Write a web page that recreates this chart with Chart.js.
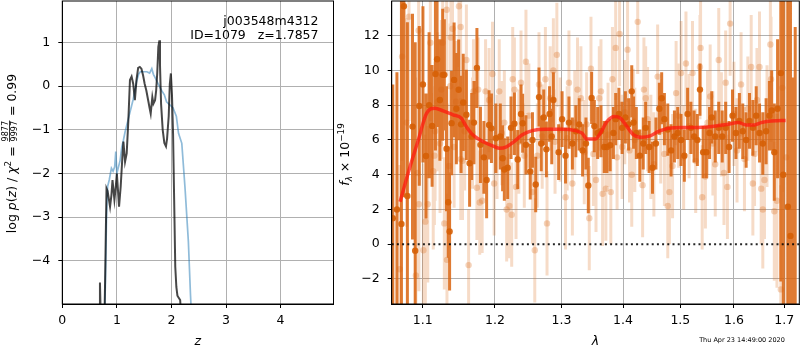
<!DOCTYPE html>
<html>
<head>
<meta charset="utf-8">
<script src="https://cdn.jsdelivr.net/npm/chart.js"></script>
<style>
  html, body { margin: 0; padding: 0; background: #fff; }
  #wrap { position: relative; width: 800px; height: 350px; }
  #wrap canvas { position: absolute; left: 0; top: 0; }
</style>
</head>
<body>
<div id="wrap">
  <canvas id="pzChart" width="800" height="350"></canvas>
  <canvas id="specChart" width="800" height="350"></canvas>
</div>
<script>
// ---- left panel: log p(z) ----
const zTicks = [0, 1, 2, 3, 4];
const pzTicks = [-4, -3, -2, -1, 0, 1];
const zRange = [0, 4.97];
const pzRange = [-4.99, 1.95];

// dark curve (full p(z))
const pzZ = [0.60, 0.685, 0.69, 0.71, 0.77, 0.79, 0.81, 0.83, 0.875, 0.90, 0.92, 0.955, 0.98, 1.00, 1.04, 1.07,
  1.10, 1.12, 1.15, 1.18, 1.21, 1.24, 1.27, 1.30, 1.33, 1.36, 1.39, 1.42, 1.45, 1.48, 1.51, 1.54, 1.57,
  1.60, 1.62, 1.65, 1.67, 1.70, 1.72, 1.74, 1.76, 1.78, 1.79, 1.81, 1.84, 1.87, 1.90, 1.92, 1.95, 1.97,
  1.99, 2.01, 2.03, 2.05, 2.07, 2.09, 2.11, 2.13, 2.16, 2.18, 2.22];
const pzLog = [-7, -5.2, -4.5, -5.6, -5.6, -4.0, -2.34, -2.4, -2.76, -2.5, -2.15, -2.6, -2.3, -2.0, -2.76, -2.3,
  -1.65, -1.27, -1.73, -1.54, -0.8, 0.14, 0.22, 0.05, -0.32, 0.15, 0.42, 0.44, 0.4, 0.25, 0.05, -0.1, -0.3,
  -0.5, -0.63, -0.25, -0.4, -0.32, -0.1, 0.3, 0.9, 1.05, 0.5, -0.4, -1.0, -1.3, -1.38, -1.2, -0.69, 0.05,
  0.29, -0.2, -1.1, -2.6, -4.13, -4.6, -4.8, -4.84, -4.9, -5.3, -7];

// light blue curve
const blueZ = [0.76, 0.79, 0.81, 0.83, 0.86, 0.90, 0.93, 0.96, 0.98, 1.00, 1.03, 1.06, 1.09, 1.12, 1.15, 1.18,
  1.21, 1.24, 1.27, 1.30, 1.33, 1.36, 1.40, 1.43, 1.47, 1.51, 1.55, 1.60, 1.64, 1.67, 1.72, 1.77, 1.82,
  1.87, 1.91, 1.96, 2.03, 2.09, 2.13, 2.19, 2.25, 2.31, 2.35, 2.38];
const blueLog = [-6, -4.5, -3.0, -2.3, -2.15, -1.88, -1.95, -1.85, -1.5, -2.0, -1.85, -1.7, -1.4, -1.24, -1.05, -0.9,
  -0.75, -0.6, -0.45, -0.3, -0.1, 0.1, 0.28, 0.33, 0.33, 0.33, 0.33, 0.3, 0.4, 0.27, 0.15, 0.02, -0.1,
  -0.2, -0.36, -0.42, -0.5, -0.69, -1.08, -1.31, -2.35, -3.55, -4.8, -5.6];

const objName = 'j003548m4312';
const objInfo = 'ID=1079   z=1.7857';

// ---- right panel: spectrum ----
const lamTicks = [1.1, 1.2, 1.3, 1.4, 1.5, 1.6, 1.7];
const fluxTicks = [-2, 0, 2, 4, 6, 8, 10, 12];
const lamRange = [1.0597, 1.731];
const fluxRange = [-3.44, 14.0];

const darkLam = [1.0611, 1.0664, 1.0722, 1.0754, 1.0799, 1.0866, 1.0901, 1.0955, 1.1003, 1.1044, 1.1085, 1.1125,
  1.1170, 1.1192, 1.1230, 1.1268, 1.1290, 1.1320, 1.1344, 1.1362, 1.1389, 1.1424, 1.1455, 1.1487, 1.1520,
  1.1550, 1.1594, 1.1639, 1.1668, 1.1700, 1.1742, 1.1792, 1.1841, 1.1880, 1.1915, 1.1949, 1.2013, 1.2077,
  1.2111, 1.2136, 1.2185, 1.2234, 1.2284, 1.2333, 1.2382, 1.2407, 1.2456, 1.2520, 1.2554, 1.2603, 1.2653,
  1.2687, 1.2726, 1.2766, 1.2815, 1.2849, 1.2874, 1.2956, 1.3010, 1.3064, 1.3118, 1.3172, 1.3227, 1.3281,
  1.3335, 1.3389, 1.3427, 1.3481, 1.3525, 1.3579, 1.3633, 1.3687, 1.3731, 1.3785, 1.3839, 1.3877, 1.3931,
  1.3985, 1.4040, 1.4094, 1.4148, 1.4179, 1.4226, 1.4286, 1.4345, 1.4387, 1.4447, 1.4506, 1.4566, 1.4626,
  1.4667, 1.4715, 1.4775, 1.4834, 1.4894, 1.4953, 1.5013, 1.5073, 1.5132, 1.5192, 1.5251, 1.5311, 1.5359,
  1.5418, 1.5478, 1.5537, 1.5578, 1.5644, 1.5710, 1.5776, 1.5842, 1.5907, 1.5973, 1.6039, 1.6105, 1.6171,
  1.6237, 1.6303, 1.6369, 1.6435, 1.6501, 1.6566, 1.6632, 1.6698, 1.6744, 1.6797, 1.6863, 1.6929, 1.6980,
  1.7074, 1.7127, 1.7185, 1.7225];
const darkFlux = [1.5, 2.0, 1.17, 13.7, 2.78, 6.77, -0.37, 7.96, 9.2, 5.08, 8.0, 6.81,
  9.8, 10.65, 8.3, 9.75, 9.75, 5.5, 2.42, 0.73, 6.97, 9.46, 7.8, 8.89, 6.9,
  8.16, 7.45, 4.66, 6.2, 7.0, 10.14, 5.72, 5.0, 3.7, 6.87, 6.67, 6.1, 6.2,
  4.95, 4.3, 4.4, 6.7, 6.94, 4.88, 7.5, 6.96, 5.72, 4.18, 6.0, 3.44, 8.47,
  5.8, 7.3, 5.46, 7.5, 6.2, 8.3, 5.3, 7.2, 5.1, 7.0, 5.8, 6.5, 6.9,
  5.4, 5.8, 3.38, 8.42, 6.8, 6.4, 6.5, 5.6, 5.6, 5.7, 6.4, 7.2, 7.5,
  6.7, 7.3, 6.9, 8.8, 7.0, 6.4, 5.1, 5.8, 6.7, 5.6, 4.4, 5.8, 7.8,
  8.4, 7.2, 6.6, 5.4, 6.2, 6.4, 6.0, 5.1, 7.5, 6.7, 6.2, 6.0, 8.9,
  5.3, 5.3, 6.4, 7.3, 6.2, 6.7, 6.2, 6.7, 5.6, 7.4, 6.4, 7.1, 6.5,
  6.0, 7.1, 6.7, 7.4, 6.4, 5.8, 6.5, 7.4, 7.7, 5.3, 7.8, 9.85, 4.0,
  2.16, 0.48, -6.0, -5.0];
const darkErr = [7.7, 7.9, 16, 11, 10, 6.5, 12, 4.6, 4.5, 3.6, 4.2, 3.5,
  4.4, 3.9, 3.5, 3.8, 3.2, 3.6, 3.2, 3.4, 3.0, 3.3, 3.2, 2.9, 2.8,
  2.8, 2.6, 2.5, 2.5, 2.4, 2.3, 2.2, 2.1, 2.2, 2.0, 2.0, 2.0, 1.9,
  1.9, 1.8, 1.8, 1.8, 1.8, 1.7, 1.7, 1.7, 1.7, 1.6, 1.6, 1.6, 1.7,
  1.6, 1.6, 1.6, 1.6, 1.6, 1.6, 1.6, 1.6, 1.6, 1.5, 1.5, 1.5, 1.5,
  1.5, 1.5, 1.6, 1.5, 1.5, 1.5, 1.5, 1.5, 1.5, 1.5, 1.5, 1.5, 1.5,
  1.5, 1.5, 1.5, 1.5, 1.5, 1.5, 1.5, 1.5, 1.5, 1.5, 1.5, 1.5, 1.5,
  1.5, 1.5, 1.5, 1.5, 1.5, 1.5, 1.5, 1.5, 1.5, 1.5, 1.5, 1.5, 1.5,
  1.5, 1.5, 1.5, 1.5, 1.5, 1.5, 1.5, 1.5, 1.5, 1.5, 1.5, 1.6, 1.6,
  1.6, 1.6, 1.6, 1.7, 1.7, 1.8, 1.9, 2.0, 2.3, 2.8, 4.0, 12, 14,
  14, 15, 15.6, 17.5];

const lightLam = [1.0700, 1.0730, 1.0790, 1.0820, 1.0910, 1.0930, 1.0946, 1.0950, 1.1009, 1.1035, 1.1067, 1.1102,
  1.1140, 1.1156, 1.1165, 1.1200, 1.1232, 1.1250, 1.1268, 1.1290, 1.1322, 1.1326, 1.1357, 1.1370, 1.1380,
  1.1402, 1.1424, 1.1450, 1.1491, 1.1514, 1.1516, 1.1540, 1.1570, 1.1594, 1.1625, 1.1680, 1.1693, 1.1742,
  1.1760, 1.1782, 1.1816, 1.1865, 1.1915, 1.1964, 1.1988, 1.2030, 1.2062, 1.2100, 1.2136, 1.2170, 1.2210,
  1.2244, 1.2259, 1.2284, 1.2308, 1.2350, 1.2382, 1.2431, 1.2456, 1.2500, 1.2554, 1.2589, 1.2628, 1.2653,
  1.2702, 1.2751, 1.2776, 1.2825, 1.2874, 1.2900, 1.2928, 1.2980, 1.3064, 1.3090, 1.3118, 1.3172, 1.3210,
  1.3254, 1.3308, 1.3362, 1.3400, 1.3443, 1.3470, 1.3510, 1.3552, 1.3606, 1.3633, 1.3660, 1.3714, 1.3750,
  1.3796, 1.3823, 1.3877, 1.3900, 1.3942, 1.3985, 1.4030, 1.4077, 1.4110, 1.4148, 1.4175, 1.4200, 1.4250,
  1.4334, 1.4357, 1.4387, 1.4420, 1.4477, 1.4530, 1.4596, 1.4650, 1.4715, 1.4775, 1.4804, 1.4860, 1.4924,
  1.4970, 1.5013, 1.5060, 1.5102, 1.5160, 1.5222, 1.5280, 1.5359, 1.5370, 1.5400, 1.5460, 1.5500, 1.5549,
  1.5600, 1.5644, 1.5710, 1.5760, 1.5809, 1.5842, 1.5875, 1.5927, 1.6000, 1.6060, 1.6138, 1.6204, 1.6270,
  1.6336, 1.6369, 1.6402, 1.6450, 1.6500, 1.6534, 1.6566, 1.6599, 1.6650, 1.6718, 1.6731, 1.6797, 1.6850,
  1.6929, 1.6960, 1.7040];
const lightFlux = [-1.44, 10.8, 7.0, 13.1, -1.8, 4.1, 12.3, 2.3, -0.35, 1.3, 2.3, 11.6,
  4.2, 5.1, 6.5, 8.2, 5.8, 8.9, 11.6, 1.2, 13.5, -0.9, 4.5, 9.1, 11.9,
  12.4, 5.6, 8.2, 13.7, 12.5, 4.9, 4.8, 6.5, 10.6, -1.2, 6.4, 8.8, 3.25,
  8.9, 2.4, 2.5, 8.8, 8.3, 9.8, 3.5, 5.6, 8.8, 6.4, 7.0, 2.0, 2.2,
  1.7, 9.5, 8.9, 3.3, 5.9, 9.3, 5.1, 10.5, 7.4, 3.0, -0.35, 5.1, 9.2,
  6.2, 9.5, 1.2, 8.4, 10.0, 5.9, 10.9, 6.6, 2.7, 6.1, 9.3, 3.5, 7.0,
  8.9, 8.4, 5.3, 6.9, 1.5, 10.1, 5.2, 3.7, 8.4, 8.8, 2.9, 3.2, 6.3,
  3.0, 9.5, 11.3, 5.0, 12.1, 5.6, 7.6, 11.2, 5.4, 4.0, 7.1, 6.0, 12.8,
  3.4, 8.9, 8.4, 7.2, 5.6, 4.6, 9.65, 6.5, 5.2, 2.2, 3.0, 4.5, 8.7,
  7.4, 9.85, 5.0, 10.4, 6.8, 9.85, 4.8, 10.2, 11.3, 2.7, 3.9, 7.0, 8.5,
  5.8, 4.6, 10.6, 6.9, 4.1, 9.3, 3.3, 12.7, 7.5, 5.4, 9.2, 4.9, 7.8,
  10.2, 3.5, 5.2, 8.3, 10.2, 3.2, 2.0, 3.7, 6.8, 11.5, 9.5, 1.9, 2.5,
  -2.6, 9.0, 5.0];
const lightErr = [6, 6, 6, 6, 6, 5.5, 5, 5, 5, 5, 4.5, 4.5,
  4.5, 4, 4, 4, 4, 4, 3.8, 3.8, 3.8, 3.8, 3.6, 3.6, 3.6,
  3.6, 3.5, 3.5, 3.5, 3.5, 3.5, 3.4, 3.4, 3.2, 3.2, 3.2, 3, 3,
  3, 3, 3, 3, 3, 3, 3, 3, 3, 3, 3, 3, 3,
  3, 3, 3, 3, 3, 3, 3, 3, 3, 3, 3, 3, 3,
  3, 3, 3, 3, 3, 3, 3, 3, 3, 3, 3, 3, 3,
  3, 3, 3, 3, 3, 3, 3, 3, 3, 3, 3, 3, 3,
  3, 3, 3, 3, 3, 3, 3, 3, 3, 3, 3, 3, 3,
  3, 3, 3, 3, 3, 3, 3, 3, 3, 3, 3, 3, 3,
  3, 3, 3, 3, 3, 3, 3, 3, 3, 3, 3, 3, 3,
  3, 3, 3, 3, 3, 3, 3, 3, 3, 3, 3, 3, 3,
  3, 3, 3, 3, 3.2, 3.2, 3.4, 3.4, 3.5, 3.6, 3.6, 4, 5,
  6, 6, 9];

// red model curve
const modelLam = [1.0704, 1.0834, 1.0942, 1.1053, 1.1163, 1.1274, 1.1409, 1.1523, 1.1592, 1.1683, 1.1823, 1.1965,
  1.2061, 1.2158, 1.2279, 1.2402, 1.2552, 1.2754, 1.3010, 1.3220, 1.3326, 1.3406, 1.3541, 1.3623, 1.3731,
  1.3859, 1.3954, 1.4065, 1.4178, 1.4320, 1.4465, 1.4611, 1.4788, 1.5026, 1.5270, 1.5577, 1.5889, 1.6080,
  1.6240, 1.6403, 1.6534, 1.6734, 1.7027];
const modelFlux = [2.45, 4.47, 6.0, 7.55, 7.83, 7.67, 7.45, 7.26, 6.78, 6.3, 5.91, 5.66,
  5.53, 5.59, 5.91, 6.3, 6.54, 6.62, 6.62, 6.54, 6.39, 6.05, 6.05, 6.39, 7.06,
  7.35, 7.26, 6.78, 6.3, 6.16, 6.24, 6.49, 6.68, 6.72, 6.72, 6.78, 6.91, 7.0,
  6.87, 6.87, 7.0, 7.1, 7.12];

const stamp = 'Thu Apr 23 14:49:00 2020';

Chart.defaults.font.family = "'DejaVu Sans', sans-serif";
Chart.defaults.font.size = 12.5;
Chart.defaults.color = '#000';

const ROMAN = "12.5px 'DejaVu Sans'";
const ITAL = "italic 12.5px 'DejaVu Sans'";
const SMALL = "8.8px 'DejaVu Sans'";
const SMALL_IT = "italic 8.8px 'DejaVu Sans'";
const FRAC = "8px 'DejaVu Sans'";

function fmtTick(v) {
  return v < 0 ? '\u2212' + Math.abs(v) : String(v);
}

// text made of runs (roman/italic/sup/sub/fraction), centred on x,y
function drawMath(ctx, runs, x, y, vertical) {
  ctx.save();
  ctx.translate(x, y);
  if (vertical) ctx.rotate(-Math.PI / 2);
  ctx.fillStyle = '#000';
  ctx.textBaseline = 'alphabetic';
  ctx.textAlign = 'left';
  let total = 0;
  runs.forEach(r => {
    ctx.font = r.font;
    r.w = r.num ? Math.max(ctx.measureText(r.num).width, ctx.measureText(r.den).width) + 2
                : ctx.measureText(r.t).width;
    total += r.w;
  });
  let cx = -total / 2;
  runs.forEach(r => {
    ctx.font = r.font;
    if (r.num) {
      const nw = ctx.measureText(r.num).width, dw = ctx.measureText(r.den).width;
      ctx.fillText(r.num, cx + (r.w - nw) / 2, -7.6);
      ctx.fillText(r.den, cx + (r.w - dw) / 2, 0.5);
      ctx.fillRect(cx + 0.5, -6.9, r.w - 1, 0.8);
    } else {
      ctx.fillText(r.t, cx, r.dy || 0);
    }
    cx += r.w;
  });
  ctx.restore();
}

const frame = {
  id: 'frame',
  afterDraw(chart) {
    const { ctx, chartArea: a } = chart;
    ctx.save();
    ctx.strokeStyle = '#000';
    ctx.lineWidth = 1;
    ctx.strokeRect(a.left, a.top, a.right - a.left, a.bottom - a.top);
    ctx.restore();
  }
};

const pzText = {
  id: 'pzText',
  afterDraw(chart) {
    const { ctx, chartArea: a } = chart;
    ctx.save();
    ctx.fillStyle = '#000';
    ctx.font = ROMAN;
    ctx.textAlign = 'right';
    ctx.fillText(objName, a.right - 15, 24.5);
    ctx.fillText(objInfo, a.right - 15, 38.5);
    ctx.restore();
    drawMath(ctx, [
      { t: 'log ', font: ROMAN }, { t: 'p', font: ITAL }, { t: '(', font: ROMAN }, { t: 'z', font: ITAL },
      { t: ') / ', font: ROMAN }, { t: '\u03c7', font: ITAL }, { t: '2', font: SMALL, dy: -5.5 },
      { t: ' = ', font: ROMAN }, { num: '9877', den: '9997', font: FRAC }, { t: ' = 0.99', font: ROMAN }
    ], 16, (a.top + a.bottom) / 2 + 1, true);
    drawMath(ctx, [{ t: 'z', font: ITAL }], (a.left + a.right) / 2, 345, false);
  }
};

const specText = {
  id: 'specText',
  afterDraw(chart) {
    const { ctx, chartArea: a } = chart;
    drawMath(ctx, [
      { t: 'f', font: ITAL }, { t: '\u03bb', font: SMALL_IT, dy: 2.5 },
      { t: ' \u00d7 10', font: ROMAN }, { t: '\u221219', font: SMALL, dy: -5.5 }
    ], 349.3, (a.top + a.bottom) / 2 + 2, true);
    drawMath(ctx, [{ t: '\u03bb', font: ITAL }], (a.left + a.right) / 2, 345, false);
    ctx.save();
    ctx.font = "6.5px 'DejaVu Sans'";
    ctx.fillStyle = '#000';
    ctx.textAlign = 'center';
    ctx.fillText(stamp, 742, 341.5);
    ctx.restore();
  }
};

function xy(xs, ys) {
  return xs.map((x, i) => ({ x: x, y: ys[i] }));
}

// vertical error bars as broken line segments
function errorSegments(xs, ys, es) {
  const pts = [];
  xs.forEach((x, i) => {
    pts.push({ x: x, y: ys[i] - es[i] }, { x: x, y: ys[i] + es[i] }, { x: x, y: null });
  });
  return pts;
}

// fixed axis boxes, no extra label overhang padding
function fixX(s) { s.height = 46; s.paddingLeft = 0; s.paddingRight = 0; }
function fixY(w) { return s => { s.width = w; s.paddingTop = 0; s.paddingBottom = 0; }; }

const gridColor = '#b0b0b0';

new Chart(document.getElementById('pzChart'), {
  type: 'scatter',
  data: {
    datasets: [
      {
        data: xy(pzZ, pzLog), showLine: true, pointRadius: 0,
        borderColor: 'rgba(0,0,0,0.72)', borderWidth: 2, order: 0
      },
      {
        data: xy(blueZ, blueLog), showLine: true, pointRadius: 0,
        borderColor: 'rgba(31,119,180,0.5)', borderWidth: 1.7, order: 1
      }
    ]
  },
  options: {
    responsive: false, animation: false, devicePixelRatio: 1,
    layout: { autoPadding: false, padding: { left: 0, right: 800 - 333.5, top: 1, bottom: 0 } },
    plugins: { legend: { display: false }, tooltip: { enabled: false } },
    scales: {
      x: {
        type: 'linear', min: zRange[0], max: zRange[1], bounds: 'data',
        afterBuildTicks: s => { s.ticks = zTicks.map(v => ({ value: v })); },
        afterFit: fixX,
        ticks: { callback: fmtTick, padding: 5, maxRotation: 0, autoSkip: false },
        grid: { color: gridColor, tickColor: '#000', tickLength: 4 },
        border: { color: '#000' }
      },
      y: {
        type: 'linear', min: pzRange[0], max: pzRange[1], bounds: 'data',
        afterBuildTicks: s => { s.ticks = pzTicks.map(v => ({ value: v })); },
        afterFit: fixY(62.3),
        ticks: { callback: fmtTick, padding: 8, autoSkip: false },
        grid: { color: gridColor, tickColor: '#000', tickLength: 4 },
        border: { color: '#000' }
      }
    }
  },
  plugins: [frame, pzText]
});

new Chart(document.getElementById('specChart'), {
  type: 'scatter',
  data: {
    datasets: [
      {
        data: [{ x: lamRange[0], y: 0 }, { x: lamRange[1], y: 0 }], showLine: true, pointRadius: 0,
        borderColor: 'rgba(0,0,0,0.85)', borderWidth: 2, borderDash: [2, 3.2], order: 0
      },
      {
        data: xy(modelLam, modelFlux), showLine: true, pointRadius: 0, cubicInterpolationMode: 'monotone',
        borderColor: 'rgba(255,25,15,0.75)', borderWidth: 3.5, order: 1
      },
      {
        data: xy(darkLam, darkFlux), pointRadius: 3.2, borderWidth: 0,
        backgroundColor: 'rgba(214,95,5,0.9)', order: 2
      },
      {
        data: errorSegments(darkLam, darkFlux, darkErr), showLine: true, pointRadius: 0,
        borderColor: 'rgba(217,100,15,0.85)', borderWidth: 3, order: 3
      },
      {
        data: xy(lightLam, lightFlux), pointRadius: 3.2, borderWidth: 0,
        backgroundColor: 'rgba(220,110,30,0.3)', order: 4
      },
      {
        data: errorSegments(lightLam, lightFlux, lightErr), showLine: true, pointRadius: 0,
        borderColor: 'rgba(220,110,30,0.25)', borderWidth: 3, order: 5
      }
    ]
  },
  options: {
    responsive: false, animation: false, devicePixelRatio: 1,
    layout: { autoPadding: false, padding: { left: 340, right: 0.7, top: 1, bottom: 0 } },
    plugins: { legend: { display: false }, tooltip: { enabled: false } },
    scales: {
      x: {
        type: 'logarithmic', min: lamRange[0], max: lamRange[1], bounds: 'data', z: 1,
        afterBuildTicks: s => { s.ticks = lamTicks.map(v => ({ value: v })); },
        afterFit: fixX,
        ticks: { callback: v => Number(v).toFixed(1), padding: 5, maxRotation: 0, autoSkip: false },
        grid: { color: gridColor, tickColor: '#000', tickLength: 4 },
        border: { color: '#000' }
      },
      y: {
        type: 'linear', min: fluxRange[0], max: fluxRange[1], bounds: 'data', z: 1,
        afterBuildTicks: s => { s.ticks = fluxTicks.map(v => ({ value: v })); },
        afterFit: fixY(51.7),
        ticks: { callback: fmtTick, padding: 8, autoSkip: false },
        grid: {
          color: c => (c.tick && c.tick.value === 0) ? 'rgba(0,0,0,0)' : gridColor,
          tickColor: '#000', tickLength: 4
        },
        border: { color: '#000' }
      }
    }
  },
  plugins: [frame, specText]
});
</script>
</body>
</html>
